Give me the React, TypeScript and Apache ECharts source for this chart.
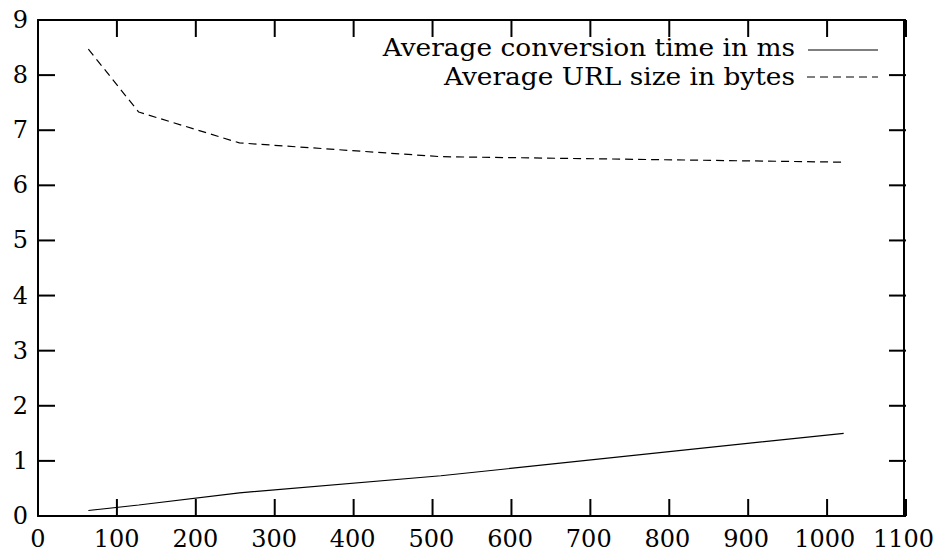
import React, { useEffect, useRef } from "react";
import * as echarts from "echarts";

const xValues = [64, 128, 256, 512, 1024];
const conversionTime = [0.1, 0.2, 0.42, 0.73, 1.5];
const urlSize = [8.47, 7.33, 6.77, 6.52, 6.42];
const seriesNames = ["Average conversion time in ms", "Average URL size in bytes"];
const xTicks = [0, 100, 200, 300, 400, 500, 600, 700, 800, 900, 1000, 1100];
const yTicks = [0, 1, 2, 3, 4, 5, 6, 7, 8, 9];

const FONT = "DejaVu Serif";
const TICK_LEN = 17;

export default function App() {
  const ref = useRef<HTMLDivElement>(null);
  useEffect(() => {
    document.body.style.margin = "0";
    const chart = echarts.init(ref.current!, null, { renderer: "svg" });
    const axisLine = () => ({ show: true, onZero: false, lineStyle: { color: "#000", width: 2 } });
    const label = () => ({ color: "#000", fontFamily: FONT, fontSize: 24, formatter: (v: number) => String(v) });
    const xAx = (position: string, showLabel: boolean, margin: number) => ({
      type: "value", min: xTicks[0], max: xTicks[xTicks.length - 1], interval: 100, position,
      splitLine: { show: false }, axisLine: axisLine(), axisTick: { show: false },
      axisLabel: showLabel ? { ...label(), margin } : { show: false },
    });
    const yAx = (position: string, showLabel: boolean, margin: number) => ({
      type: "value", min: yTicks[0], max: yTicks[yTicks.length - 1], interval: 1, position,
      splitLine: { show: false }, axisLine: axisLine(), axisTick: { show: false },
      axisLabel: showLabel ? { ...label(), margin } : { show: false },
    });
    const legend: any[] = [
      {
        type: "text", x: 795, y: 48, scaleX: 1.1,
        style: { text: seriesNames[0], fill: "#000", font: `24px "${FONT}"`, textAlign: "right", textVerticalAlign: "middle" },
      },
      { type: "line", shape: { x1: 808, y1: 50, x2: 878, y2: 50 }, style: { stroke: "#000", lineWidth: 1.2 } },
      {
        type: "text", x: 795, y: 77, scaleX: 1.1,
        style: { text: seriesNames[1], fill: "#000", font: `24px "${FONT}"`, textAlign: "right", textVerticalAlign: "middle" },
      },
      { type: "line", shape: { x1: 807, y1: 77, x2: 878, y2: 77 }, style: { stroke: "#000", lineWidth: 1.2, lineDash: [8, 5] } },
    ];
    // tick marks on all four sides; positions from the same linear mapping the grid uses
    const gLeft = 38, gRight = 937 - 31, gTop = 20, gBottom = 558 - 42;
    const xMin = xTicks[0], xMax = xTicks[xTicks.length - 1];
    const yMin = yTicks[0], yMax = yTicks[yTicks.length - 1];
    const ticks: any[] = [];
    const tickStyle = { stroke: "#000000", lineWidth: 2 };
    xTicks.forEach((t) => {
      const x = gLeft + ((t - xMin) / (xMax - xMin)) * (gRight - gLeft);
      ticks.push({ type: "line", z: 100, shape: { x1: x, y1: gBottom, x2: x, y2: gBottom - TICK_LEN }, style: tickStyle });
      ticks.push({ type: "line", z: 100, shape: { x1: x, y1: gTop, x2: x, y2: gTop + TICK_LEN }, style: tickStyle });
    });
    yTicks.forEach((t) => {
      const y = gBottom - ((t - yMin) / (yMax - yMin)) * (gBottom - gTop);
      ticks.push({ type: "line", z: 100, shape: { x1: gLeft, y1: y, x2: gLeft + TICK_LEN, y2: y }, style: tickStyle });
      ticks.push({ type: "line", z: 100, shape: { x1: gRight, y1: y, x2: gRight - TICK_LEN, y2: y }, style: tickStyle });
    });
    chart.setOption({
      animation: false,
      grid: { left: gLeft, right: 937 - gRight, top: gTop, bottom: 558 - gBottom, containLabel: false },
      xAxis: [xAx("bottom", true, 11), xAx("top", false, 8)],
      yAxis: [yAx("left", true, 10), yAx("right", false, 8)],
      series: [
        {
          name: seriesNames[0], type: "line", showSymbol: false,
          data: xValues.map((x, i) => [x, conversionTime[i]]),
          lineStyle: { color: "#000", width: 1.2 },
        },
        {
          name: seriesNames[1], type: "line", showSymbol: false,
          data: xValues.map((x, i) => [x, urlSize[i]]),
          lineStyle: { color: "#000", width: 1.2, type: [8, 5] },
        },
      ],
      graphic: [...legend, ...ticks],
    });
    return () => chart.dispose();
  }, []);
  return <div ref={ref} style={{ position: "absolute", left: 0, top: 0, width: 937, height: 558, background: "#fff" }} />;
}
